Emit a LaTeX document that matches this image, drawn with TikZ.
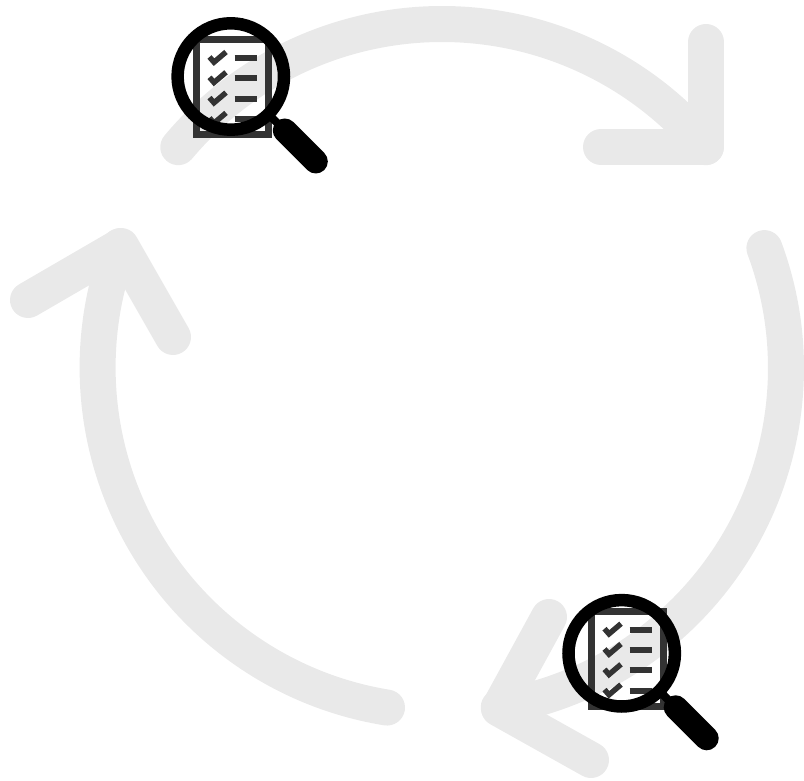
\documentclass[tikz,border=0pt]{standalone}
\usetikzlibrary{calc}
\tikzset{
  x=1pt,y=1pt,
  cyclearrow/.style={draw=cyclegray,line width=36pt,line cap=round,line join=round},
  docframe/.style={draw=docdark,line width=7pt},
  docline/.style={draw=docdark,line width=6pt},
  doccheck/.style={draw=docdark,line width=5.4pt,line join=miter},
  lensring/.style={draw=black,line width=12.5pt},
  lensneck/.style={draw=black,line width=8pt},
  lenshandle/.style={draw=black,line width=24pt,line cap=round},
  pics/checkrow/.style={code={
    \draw[doccheck] (-6,1)--(-1.5,-4.2)--(10.5,6);
    \draw[docline] (19,0)--(41,0);
  }},
  pics/checklist/.style={code={
    \draw[docframe] (3.5,-3.5) rectangle (75.5,-98.5);
    \path (22.5,-22) pic {checkrow};
    \path (22.5,-42.3) pic {checkrow};
    \path (22.5,-62.6) pic {checkrow};
    \path (22.5,-82.9) pic {checkrow};
  }},
  pics/magnifier/.style={code={
    \draw[lensneck] (40,-40)--(54,-54);
    \draw[lenshandle] (54,-54)--(85,-85);
    \draw[lensring] (0,0) circle[radius=53.2];
  }},
}
\definecolor{cyclegray}{HTML}{E9E9E9}
\definecolor{docdark}{HTML}{333333}
\begin{document}
\begin{tikzpicture}
\useasboundingbox (0,0) rectangle (804,780);
\coordinate (centre) at (442,412);
% upper arrow
\draw[cyclearrow] ($(centre)+(140.06:344)$) arc[start angle=140.06,end angle=39.94,radius=344];
\draw[cyclearrow] (706,738) -- (706,633) -- (601,633);
% right arrow
\draw[cyclearrow] ($(centre)+(20.4:344)$) arc[start angle=20.4,end angle=-80.5,radius=344];
\draw[cyclearrow] (549,163) -- (499,71.5) -- (591,20);
% left arrow
\draw[cyclearrow] ($(centre)+(260.8:344)$) arc[start angle=260.8,end angle=159.4,radius=344.5];
\draw[cyclearrow] (28,480) -- (121,534) -- (173,443);
\path (193,744) pic {checklist};
\path (230.8,703.5) pic {magnifier};
\path (588,172.3) pic {checklist};
\path (621.7,126.7) pic {magnifier};
\end{tikzpicture}
\end{document}
